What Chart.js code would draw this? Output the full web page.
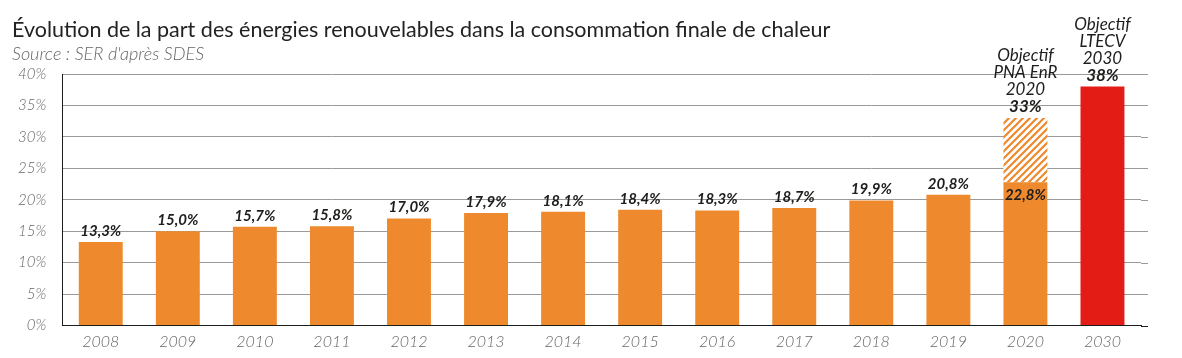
<!DOCTYPE html>
<html><head><meta charset="utf-8">
<script src="https://cdn.jsdelivr.net/npm/chart.js@4.4.1/dist/chart.umd.min.js"></script>
<style>html,body{margin:0;padding:0;background:#fff}#wrap{width:1182px;height:358px}</style>
</head><body><div id="wrap"><canvas id="c" width="1182" height="358"></canvas></div>
<script>
const title = 'Évolution de la part des énergies renouvelables dans la consommation finale de chaleur';
const source = "Source : SER d'après SDES";
const years = ['2008','2009','2010','2011','2012','2013','2014','2015','2016','2017','2018','2019','2020','2030'];
const actual = [13.3,15.0,15.7,15.8,17.0,17.9,18.1,18.4,18.3,18.7,19.9,20.8,22.8,null];
const objectifPNA = [null,null,null,null,null,null,null,null,null,null,null,null,33,null];
const objectifLTECV = [null,null,null,null,null,null,null,null,null,null,null,null,null,38];
const objectifLabels = {12:['Objectif','PNA EnR','2020'],13:['Objectif','LTECV','2030']};
const yTicks = [0,5,10,15,20,25,30,35,40];

const ORANGE = '#EE8A2D', RED = '#E31C15';
function hatch(){
  const p = 7;
  const c = document.createElement('canvas'); c.width = p; c.height = p;
  const x = c.getContext('2d');
  x.fillStyle = '#fff'; x.fillRect(0,0,p,p);
  x.strokeStyle = ORANGE; x.lineWidth = 2.2;
  x.beginPath();
  for (let k=-1;k<=1;k++){ x.moveTo(-1+k*p, p+1); x.lineTo(p+1+k*p, -1); }
  x.stroke();
  return x.createPattern(c,'repeat');
}
const gap = objectifPNA.map((v,i)=> v==null ? null : v - actual[i]);
const fmt = v => v.toFixed(1).replace('.',',') + '%';

const headerPlugin = {
  id:'header',
  afterDraw(chart){
    const ctx = chart.ctx;
    ctx.save(); ctx.textAlign='left'; ctx.textBaseline='alphabetic';
    ctx.fillStyle = '#222'; ctx.font = '21.5px Lato'; ctx.fillText(title, 12, 37);
    ctx.fillStyle = '#666'; ctx.font = 'italic 300 18px Lato'; ctx.fillText(source, 12, 60);
    ctx.restore();
  }
};
const labelsPlugin = {
  id:'labels',
  afterDatasetsDraw(chart){
    const ctx = chart.ctx, ys = chart.scales.y, xs = chart.scales.x;
    ctx.save(); ctx.textAlign='center'; ctx.textBaseline='middle'; ctx.fillStyle='#1d1d1b';
    years.forEach((yr,i)=>{
      const x = xs.getPixelForValue(i);
      if (actual[i]!=null){
        ctx.font = 'italic bold 15px Lato';
        if (objectifPNA[i]!=null) ctx.fillText(fmt(actual[i]), x, ys.getPixelForValue(actual[i]) + 13);
        else ctx.fillText(fmt(actual[i]), x, ys.getPixelForValue(actual[i]) - 11);
      }
      const t = objectifPNA[i]!=null ? objectifPNA[i] : objectifLTECV[i];
      if (t!=null){
        const top = ys.getPixelForValue(t);
        const base = top - 11;
        ctx.font = 'italic bold 17px Lato';
        ctx.fillText(Math.round(t)+'%', x, base);
        ctx.font = 'italic 17px Lato';
        const lines = objectifLabels[i];
        lines.forEach((l,k)=> ctx.fillText(l, x, base - 17*(lines.length-k)));
      }
    });
    ctx.restore();
  }
};
const extendGrid = {
  id:'extendGrid',
  beforeDatasetsDraw(chart){
    const ctx = chart.ctx, ys = chart.scales.y, a = chart.chartArea;
    ctx.save(); ctx.lineWidth = 1;
    yTicks.forEach(v=>{
      const y = Math.round(ys.getPixelForValue(v)) + 0.5;
      ctx.strokeStyle = v===0 ? '#1d1d1b' : '#9a9a9a';
      ctx.beginPath(); ctx.moveTo(a.right, y); ctx.lineTo(a.right+7, y); ctx.stroke();
    });
    ctx.restore();
  }
};

new Chart(document.getElementById('c'), {
  type:'bar',
  data:{ labels: years, datasets:[
    {data: actual, backgroundColor: ORANGE, stack:'s'},
    {data: gap, backgroundColor: hatch(), stack:'s'},
    {data: objectifLTECV, backgroundColor: RED, stack:'s'}
  ]},
  options:{
    responsive:false, animation:false,
    layout:{padding:{left:2, right:41, top:74, bottom:0.3}},
    datasets:{bar:{barPercentage:0.57, categoryPercentage:1}},
    plugins:{ legend:{display:false}, tooltip:{enabled:false}, title:{display:false}, subtitle:{display:false} },
    scales:{
      x:{stacked:true, grid:{display:false, drawTicks:false}, border:{color:'#1d1d1b'},
        ticks:{color:'#666', font:{family:'Lato', size:16, style:'italic', weight:'300'}, padding:6.5}},
      y:{stacked:true, min:0, max:40, afterBuildTicks(s){ s.ticks = yTicks.map(v=>({value:v})); },
        grid:{color:'#9a9a9a', drawTicks:false}, border:{color:'#1d1d1b'},
        ticks:{color:'#666', padding:16, font:{family:'Lato', size:15, style:'italic', weight:'300'}, callback:v=>v+'%'}}
    }
  },
  plugins:[headerPlugin, labelsPlugin, extendGrid]
});
</script></body></html>
